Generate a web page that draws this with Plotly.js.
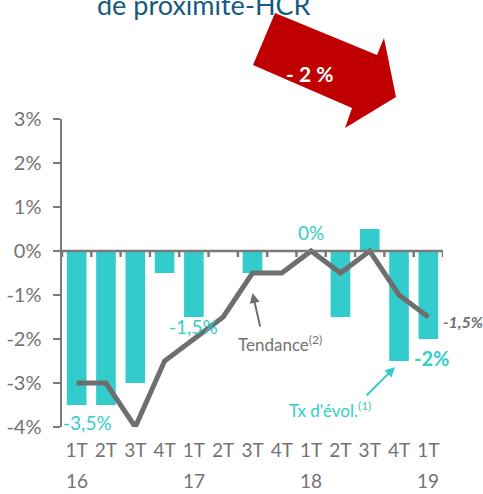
<!DOCTYPE html>
<html>
<head>
<meta charset="utf-8">
<script src="https://cdn.plot.ly/plotly-3.0.1.min.js"></script>
<style>html,body{margin:0;padding:0;background:#fff;}#chart{width:483px;height:494px;}</style>
</head>
<body>
<div id="chart"></div>
<script>
// ---- data ----
const categories = ['1T16','2T16','3T16','4T16','1T17','2T17','3T17','4T17','1T18','2T18','3T18','4T18','1T19'];
const quarterLabels = ['1T','2T','3T','4T','1T','2T','3T','4T','1T','2T','3T','4T','1T'];
const yearLabels = ['16','17','18','19'];
const yearPositions = ['1T16','1T17','1T18','1T19'];
const evolution = [-3.5,-3.5,-3.0,-0.5,-1.5,0,-0.5,0,0,-1.5,0.5,-2.5,-2.0];
const tendance  = [-3,-3,-4,-2.5,-2,-1.5,-0.5,-0.5,0,-0.5,0,-1,-1.5];
const yTickVals = [-4,-3,-2,-1,0,1,2,3];
const yTickText = ['-4%','-3%','-2%','-1%','0%','1%','2%','3%'];

const TURQ = '#33CCCC';
const GRAY = '#6E6E6E';
const AXIS = '#7A7A7A';
const TXT = '#737373';
const FONT = 'Lato, "Open Sans", sans-serif';

// plot geometry (for decorative shapes in paper coords)
const L = 62, R = 443, T = 119, B = 427;
const px = x => (x - L) / (R - L);
const py = y => (B - y) / (B - T);

const arrowPts = [[275,13],[377,55],[384,38],[396,97],[345,128],[352,108],[253,65]];
const arrowPath = 'M' + arrowPts.map(p => px(p[0]).toFixed(4) + ',' + py(p[1]).toFixed(4)).join(' L') + ' Z';

const shapes = [
  {type:'line', xref:'x', yref:'y', x0:-0.5, x1:categories.length-0.5, y0:0, y1:0,
   line:{color:AXIS, width:2.5}, layer:'above'},
  {type:'path', xref:'paper', yref:'paper', path:arrowPath, fillcolor:'#C00000', line:{width:0}, layer:'below'}
];
for (let i = 0; i <= categories.length; i++) {
  shapes.push({type:'line', xref:'x', yref:'y', ysizemode:'pixel', yanchor:0,
    x0:i-0.5, x1:i-0.5, y0:0, y1:-6, line:{color:AXIS, width:2.5}, layer:'above'});
}

const annotations = [
  {text:'de proximité-HCR', xref:'paper', yref:'paper', x:px(204), y:1, yanchor:'middle', yshift:115,
   showarrow:false, font:{family:FONT, size:27, color:'#175A7F'}},
  {text:'<b>- 2 %</b>', xref:'paper', yref:'paper', x:px(309), y:py(73), yanchor:'middle', showarrow:false,
   font:{family:FONT, size:21, color:'#FFFFFF'}},
  {text:'0%', x:categories[8], y:evolution[8], yshift:19, showarrow:false, font:{family:FONT, size:19, color:TURQ}},
  {text:'-1,5%', x:categories[4], y:evolution[4], yshift:-9, showarrow:false, font:{family:FONT, size:19, color:TURQ}},
  {text:'-3,5%', x:categories[0], y:evolution[0], xshift:11, yshift:-17, showarrow:false, font:{family:FONT, size:19, color:TURQ}},
  {text:'<b>-2%</b>', x:categories[12], y:evolution[12], xshift:3, yshift:-19, showarrow:false, font:{family:FONT, size:20, color:TURQ}},
  {text:'<b><i>-1,5%</i></b>', x:categories[12], y:tendance[12], xanchor:'left', xshift:13, yshift:-4, showarrow:false,
   font:{family:FONT, size:16, color:GRAY}},
  {text:'Tendance<sup>(2)</sup>', x:categories[7], y:-2, xshift:-2, yshift:-4, showarrow:false,
   font:{family:FONT, size:17, color:TXT}},
  {text:'', x:categories[6], y:tendance[6], yshift:-20, ax:8, ay:35, showarrow:true,
   arrowhead:2, arrowsize:1, arrowwidth:2, arrowcolor:GRAY},
  {text:'Tx d\'évol.<sup>(1)</sup>', x:categories[9], y:-3.5, xshift:-10, yshift:-4, showarrow:false,
   font:{family:FONT, size:17, color:TURQ}},
  {text:'', x:categories[11], y:evolution[11], xshift:-4, yshift:-6, ax:-30, ay:30, showarrow:true,
   arrowhead:2, arrowsize:1, arrowwidth:2, arrowcolor:TURQ}
];
yearLabels.forEach((t, i) => {
  annotations.push({text:t, x:yearPositions[i], xref:'x', yref:'paper', y:0, yanchor:'middle', yshift:-53,
    showarrow:false, font:{family:FONT, size:19, color:TXT}});
});

const data = [
  {type:'bar', x:categories, y:evolution, marker:{color:TURQ}, hoverinfo:'skip'},
  {type:'scatter', mode:'lines', x:categories, y:tendance, line:{color:GRAY, width:5}, hoverinfo:'skip'}
];

const layout = {
  width:483, height:494,
  margin:{l:L, r:483-R, t:T, b:494-B, pad:0},
  paper_bgcolor:'#fff', plot_bgcolor:'#fff',
  showlegend:false, bargap:0.33,
  font:{family:FONT, color:TXT},
  xaxis:{type:'category', categoryorder:'array', categoryarray:categories, range:[-0.5, categories.length-0.5],
    tickvals:categories, ticktext:quarterLabels, ticks:'', showline:false, showgrid:false, zeroline:false,
    tickfont:{family:FONT, size:19, color:TXT}, ticklabelstandoff:10},
  yaxis:{range:[-4,3], tickvals:yTickVals, ticktext:yTickText, ticks:'outside', ticklen:7, tickwidth:2.5,
    tickcolor:AXIS, showline:true, linecolor:AXIS, linewidth:2.5, showgrid:false, zeroline:false,
    tickfont:{family:FONT, size:20, color:TXT}, ticklabelstandoff:7},
  shapes:shapes, annotations:annotations
};
Plotly.newPlot('chart', data, layout, {staticPlot:true, displayModeBar:false});
</script>
</body>
</html>
